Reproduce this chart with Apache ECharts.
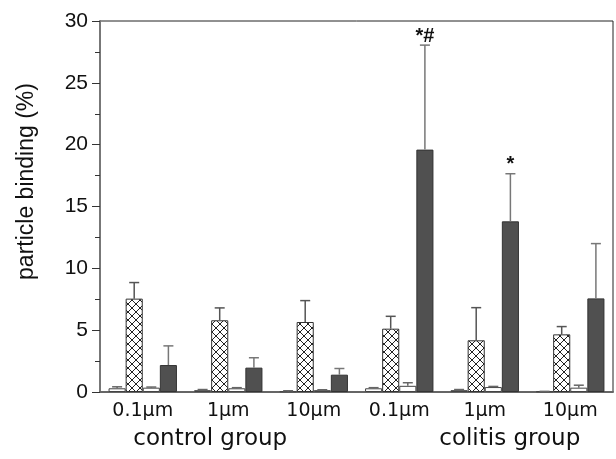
<!DOCTYPE html>
<html><head><meta charset="utf-8">
<script src="https://cdn.jsdelivr.net/npm/echarts@6/dist/echarts.min.js"></script>
<style>html,body{margin:0;padding:0;background:#fff}#c{width:616px;height:459px}</style>
</head><body><div id="c"></div>
<script>
const categories = ['0.1\u00b5m','1\u00b5m','10\u00b5m','0.1\u00b5m','1\u00b5m','10\u00b5m'];
const groups = ['control group','colitis group'];
const yTicks = [0,5,10,15,20,25,30];
// four bar series per category
const s1 = [0.3, 0.15, 0.05, 0.3, 0.15, 0.05];
const s1err = [0.12, 0.05, 0.05, 0.05, 0.05, 0.0];
const s2 = [7.55, 5.8, 5.66, 5.12, 4.18, 4.66];
const s2err = [1.3, 1.0, 1.73, 1.0, 2.64, 0.63];
const s3 = [0.35, 0.3, 0.15, 0.5, 0.4, 0.35];
const s3err = [0.05, 0.05, 0.03, 0.25, 0.05, 0.2];
const s4 = [2.18, 1.97, 1.4, 19.6, 13.8, 7.57];
const s4err = [1.55, 0.8, 0.5, 8.45, 3.85, 4.43];
const s4annot = ['', '', '', '*#', '*', ''];

function hatch(){
  const c = document.createElement('canvas');
  c.width = 8; c.height = 8;
  const g = c.getContext('2d');
  g.fillStyle = '#fff'; g.fillRect(0,0,8,8);
  g.strokeStyle = '#222'; g.lineWidth = 1;
  g.beginPath();
  g.moveTo(0,0); g.lineTo(8,8);
  g.moveTo(8,0); g.lineTo(0,8);
  g.stroke();
  return c;
}
const chart = echarts.init(document.getElementById('c'));
const nSeries = 4, gapFrac = 0.2;
function errSeries(idx, vals, errs, annot, color){
  return {
    type:'custom', xAxisIndex:0, yAxisIndex:0, z:5,
    data: vals.map((v,i)=>[i, v, v+errs[i]]),
    renderItem(params, api){
      const i = api.value(0);
      const bw = api.size([1,0])[0];
      const barW = bw*(1-gapFrac)/nSeries;
      const x = api.coord([i,0])[0] - bw*(1-gapFrac)/2 + (idx+0.5)*barW;
      const yb = api.coord([i, api.value(1)])[1];
      const yt = api.coord([i, api.value(2)])[1];
      const children = [
        {type:'line', shape:{x1:x,y1:yb,x2:x,y2:yt}, style:{stroke:color, lineWidth:1.5}},
        {type:'line', shape:{x1:x-5,y1:yt,x2:x+5,y2:yt}, style:{stroke:color, lineWidth:1.5}}
      ];
      if (annot && annot[i]) {
        children.push({type:'text', x:x, y:yt+1, style:{text:annot[i], fill:'#111', font:'bold 20px "Liberation Sans"', align:'center', verticalAlign:'bottom'}});
      }
      return {type:'group', children};
    }
  };
}
const option = {
  animation:false,
  backgroundColor:'#fff',
  grid:{left:100, right:3, top:21, bottom:67, show:true, borderColor:'#222', borderWidth:1},
  xAxis:[{
    type:'category', data:categories,
    axisLine:{lineStyle:{color:'#666', width:2}},
    axisTick:{show:false},
    axisLabel:{color:'#111', fontSize:19, fontFamily:'DejaVu Sans', margin:10, interval:0}
  },{
    type:'category', data:groups, position:'bottom', offset:26,
    axisLine:{show:false}, axisTick:{show:false},
    axisLabel:{color:'#111', fontSize:23, fontFamily:'DejaVu Sans', margin:10, interval:0, hideOverlap:false,
      formatter:(v,i)=> i===0 ? '{a|'+v+'}' : '{b|'+v+'}',
      rich:{
        a:{fontSize:23, fontFamily:'DejaVu Sans', color:'#111', padding:[0,36,0,0]},
        b:{fontSize:23, fontFamily:'DejaVu Sans', color:'#111', padding:[0,0,0,50]}
      }}
  }],
  yAxis:{
    type:'value', min:0, max:30, interval:5,
    name:'particle binding (%)', nameLocation:'middle', nameGap:62,
    nameTextStyle:{color:'#111', fontSize:23, fontFamily:'Liberation Sans', padding:[0,0,0,50]},
    axisLine:{show:true, lineStyle:{color:'#777', width:2}},
    axisTick:{show:true, length:8, lineStyle:{color:'#333'}},
    minorTick:{show:true, splitNumber:2, length:5, lineStyle:{color:'#333'}},
    splitLine:{show:false},
    axisLabel:{color:'#111', fontSize:21, fontFamily:'Liberation Sans', margin:12,
      formatter:v=> yTicks.includes(v) ? String(v) : ''}
  },
  series:[
    {type:'bar', data:s1, barGap:'0%', barCategoryGap:'20%', itemStyle:{color:'#fff', borderColor:'#444', borderWidth:1}},
    {type:'bar', data:s2, itemStyle:{color:{image:hatch(), repeat:'repeat'}, borderColor:'#333', borderWidth:1}},
    {type:'bar', data:s3, itemStyle:{color:'#fff', borderColor:'#444', borderWidth:1}},
    {type:'bar', data:s4, itemStyle:{color:'#505050', borderColor:'#333', borderWidth:1}},
    errSeries(0, s1, s1err, null, '#666'),
    errSeries(1, s2, s2err, null, '#555'),
    errSeries(2, s3, s3err, null, '#666'),
    errSeries(3, s4, s4err, s4annot, '#777')
  ]
};
chart.setOption(option);
</script></body></html>
